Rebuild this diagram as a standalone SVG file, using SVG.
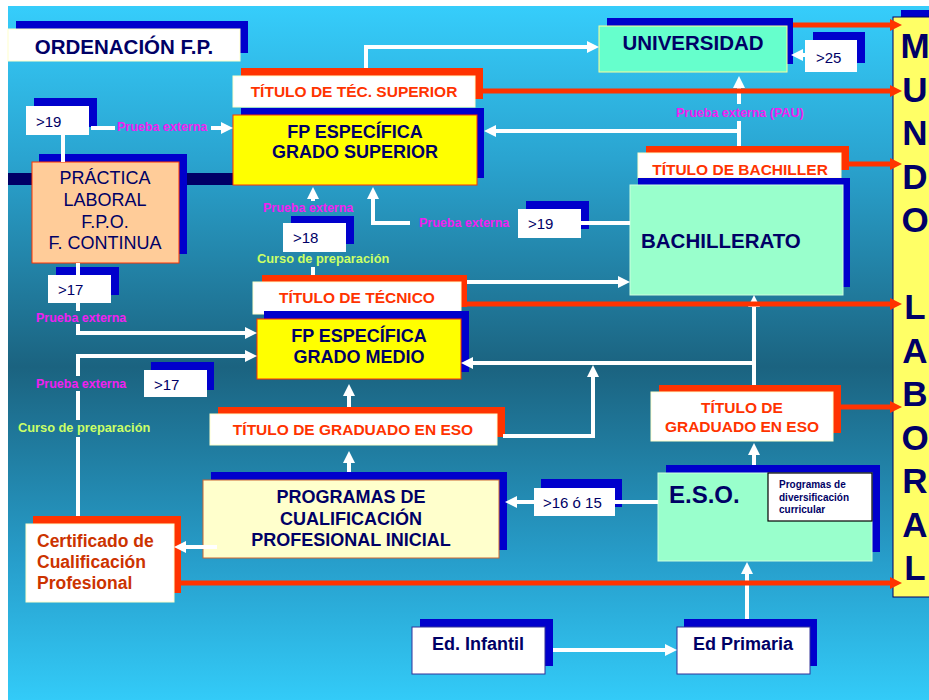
<svg xmlns="http://www.w3.org/2000/svg" width="929" height="700" viewBox="0 0 929 700">
<defs>
<linearGradient id="bg" x1="0" y1="0" x2="0" y2="1">
<stop offset="0" stop-color="#36cdfb"/>
<stop offset="0.22" stop-color="#2aa4d0"/>
<stop offset="0.52" stop-color="#1b6380"/>
<stop offset="0.8" stop-color="#279ecb"/>
<stop offset="1" stop-color="#33cbf8"/>
</linearGradient>
<marker id="aw" viewBox="0 0 10 10" refX="5" refY="5" markerWidth="12" markerHeight="12" markerUnits="userSpaceOnUse" orient="auto"><path d="M0,0 L10,5 L0,10 z" fill="#ffffff"/></marker>
<marker id="ar" viewBox="0 0 10 10" refX="5" refY="5" markerWidth="12" markerHeight="12" markerUnits="userSpaceOnUse" orient="auto"><path d="M0,0 L10,5 L0,10 z" fill="#ff3300"/></marker>
</defs>
<style>
text{font-family:"Liberation Sans",Arial,sans-serif}
.b{font-weight:bold}
.nv{fill:#000066}
.rd{fill:#ff3300}
.cr{fill:#cc3300}
.mg{fill:#f020f0;font-size:12.5px;font-weight:bold}
.gn{fill:#ccff66;font-size:12.8px;font-weight:bold}
.sb{fill:#0000cc}
.sr{fill:#ff3300}
.wb{fill:#ffffff;stroke:#ffffcc;stroke-width:1}
.yb{fill:#ffff00;stroke:#ff3300;stroke-width:1}
.age{fill:#ffffff}
.agt{fill:#000066;font-size:15px}
.rt{fill:#ff3300;font-size:15.5px;font-weight:bold}
.wl{stroke:#ffffff;stroke-width:4;fill:none}
.rl{stroke:#ff3300;stroke-width:5;fill:none}
</style>
<rect x="0" y="0" width="929" height="700" fill="#ffffff"/>
<rect x="8" y="6" width="921" height="694" fill="url(#bg)"/>
<rect x="8" y="173" width="228" height="12" fill="#000066"/>

<g id="titulo">
<rect class="sb" x="16" y="21" width="232" height="32"/>
<rect class="wb" x="8" y="29" width="232" height="32"/>
<text x="124" y="54" text-anchor="middle" class="b nv" font-size="20.5">ORDENACIÓN F.P.</text>
</g>

<g id="universidad">
<rect class="sb" x="607" y="18" width="186" height="46"/>
<rect x="599" y="26" width="188" height="46" fill="#66ffcc" stroke="#ffff99" stroke-width="1"/>
<text x="693" y="50" text-anchor="middle" class="b nv" font-size="20.5">UNIVERSIDAD</text>
</g>

<g id="edad25">
<rect class="sb" x="813" y="32" width="52" height="31"/>
<rect class="age" x="805" y="40" width="52" height="32"/>
<text x="816" y="63" class="agt">&gt;25</text>
</g>

<g id="titulo-tec-superior">
<rect class="sr" x="241" y="68" width="242" height="31"/>
<rect class="wb" x="233" y="76" width="242" height="31"/>
<text x="354" y="97" text-anchor="middle" class="rt">TÍTULO DE TÉC. SUPERIOR</text>
</g>

<g id="fp-grado-superior">
<rect class="sb" x="241" y="108" width="243" height="70"/>
<rect class="yb" x="233" y="115" width="244" height="70"/>
<text x="355" y="138" text-anchor="middle" class="b nv" font-size="18">FP ESPECÍFICA</text>
<text x="355" y="158" text-anchor="middle" class="b nv" font-size="18">GRADO SUPERIOR</text>
</g>

<g id="edad19a">
<rect class="sb" x="34" y="98" width="63" height="29"/>
<rect class="age" x="26" y="106" width="63" height="29"/>
<text x="36" y="127" class="agt">&gt;19</text>
</g>

<g id="practica-laboral">
<rect class="sb" x="39" y="154" width="148" height="100"/>
<rect x="32" y="162" width="147" height="101" fill="#ffcc99" stroke="#ff3300" stroke-width="1"/>
<text x="105" y="184" text-anchor="middle" class="nv" font-size="18">PRÁCTICA</text>
<text x="105" y="206" text-anchor="middle" class="nv" font-size="18">LABORAL</text>
<text x="105" y="228" text-anchor="middle" class="nv" font-size="18">F.P.O.</text>
<text x="105" y="249" text-anchor="middle" class="nv" font-size="18">F. CONTINUA</text>
</g>

<g id="titulo-bachiller">
<rect class="sr" x="646" y="146" width="203" height="24"/>
<rect class="wb" x="638" y="153" width="203" height="25"/>
<text x="740" y="175" text-anchor="middle" class="rt">TÍTULO DE BACHILLER</text>
</g>

<g id="bachillerato">
<rect class="sb" x="638" y="178" width="212" height="109"/>
<rect x="630" y="185" width="213" height="110" fill="#99ffcc" stroke="#ccffdd" stroke-width="1"/>
<text x="641" y="248" class="b nv" font-size="20.5">BACHILLERATO</text>
</g>

<g id="edad19b">
<rect class="sb" x="526" y="201" width="63" height="28"/>
<rect class="age" x="518" y="209" width="63" height="29"/>
<text x="528" y="229" class="agt">&gt;19</text>
</g>

<g id="edad18">
<rect class="sb" x="291" y="216" width="63" height="28"/>
<rect class="age" x="283" y="223" width="63" height="29"/>
<text x="293" y="243" class="agt">&gt;18</text>
</g>

<g id="edad17a">
<rect class="sb" x="56" y="267" width="63" height="28"/>
<rect class="age" x="48" y="275" width="63" height="28"/>
<text x="58" y="295" class="agt">&gt;17</text>
</g>

<g id="titulo-tecnico">
<rect class="sr" x="262" y="275" width="205" height="32"/>
<rect class="wb" x="253" y="282" width="208" height="32"/>
<text x="357" y="303" text-anchor="middle" class="rt">TÍTULO DE TÉCNICO</text>
</g>

<g id="fp-grado-medio">
<rect class="sb" x="264" y="311" width="205" height="61"/>
<rect class="yb" x="257" y="319" width="204" height="60"/>
<text x="359" y="342" text-anchor="middle" class="b nv" font-size="18">FP ESPECÍFICA</text>
<text x="359" y="363" text-anchor="middle" class="b nv" font-size="18">GRADO MEDIO</text>
</g>

<g id="edad17b">
<rect class="sb" x="151" y="362" width="63" height="28"/>
<rect class="age" x="144" y="370" width="63" height="27"/>
<text x="154" y="390" class="agt">&gt;17</text>
</g>

<g id="titulo-graduado-eso-a">
<rect class="sr" x="218" y="407" width="287" height="30"/>
<rect class="wb" x="210" y="414" width="287" height="31"/>
<text x="353" y="435" text-anchor="middle" class="rt">TÍTULO DE GRADUADO EN ESO</text>
</g>

<g id="titulo-graduado-eso-b">
<rect class="sr" x="659" y="385" width="182" height="48"/>
<rect class="wb" x="651" y="392" width="182" height="49"/>
<text x="742" y="413" text-anchor="middle" class="rt">TÍTULO DE</text>
<text x="742" y="432" text-anchor="middle" class="rt">GRADUADO EN ESO</text>
</g>

<g id="pcpi">
<rect class="sb" x="211" y="472" width="296" height="78"/>
<rect x="203" y="480" width="296" height="78" fill="#ffffcc" stroke="#cc6633" stroke-width="1"/>
<text x="351" y="503" text-anchor="middle" class="b nv" font-size="18">PROGRAMAS DE</text>
<text x="351" y="525" text-anchor="middle" class="b nv" font-size="18">CUALIFICACIÓN</text>
<text x="351" y="546" text-anchor="middle" class="b nv" font-size="18">PROFESIONAL INICIAL</text>
</g>

<g id="edad16">
<rect class="sb" x="541" y="479" width="81" height="28"/>
<rect class="age" x="534" y="488" width="81" height="28"/>
<text x="543" y="508" class="agt">&gt;16 ó 15</text>
</g>

<g id="eso">
<rect class="sb" x="666" y="465" width="214" height="87"/>
<rect x="658" y="473" width="214" height="88" fill="#99ffcc" stroke="#ccffdd" stroke-width="1"/>
<text x="669" y="503" class="b nv" font-size="24">E.S.O.</text>
<rect x="768" y="473" width="104" height="48" fill="#ffffff" stroke="#000000" stroke-width="1.2"/>
<text x="779" y="488" class="b nv" font-size="10">Programas de</text>
<text x="779" y="501" class="b nv" font-size="10">diversificación</text>
<text x="779" y="513" class="b nv" font-size="10">curricular</text>
</g>

<g id="certificado">
<rect class="sr" x="33" y="516" width="148" height="77"/>
<rect class="wb" x="26" y="524" width="148" height="78"/>
<text x="37" y="547" class="b cr" font-size="17.5">Certificado de</text>
<text x="37" y="568" class="b cr" font-size="17.5">Cualificación</text>
<text x="37" y="589" class="b cr" font-size="17.5">Profesional</text>
</g>

<g id="ed-infantil">
<rect class="sb" x="420" y="619" width="133" height="47"/>
<rect x="412" y="627" width="133" height="47" fill="#ffffff" stroke="#333399" stroke-width="1"/>
<text x="478" y="650" text-anchor="middle" class="b nv" font-size="18">Ed. Infantil</text>
</g>

<g id="ed-primaria">
<rect class="sb" x="684" y="619" width="133" height="47"/>
<rect x="677" y="627" width="133" height="47" fill="#ffffff" stroke="#333399" stroke-width="1"/>
<text x="743" y="650" text-anchor="middle" class="b nv" font-size="18">Ed Primaria</text>
</g>

<g id="mundo-laboral">
<rect class="sb" x="901" y="10" width="40" height="8"/>
<rect x="893" y="17" width="45" height="580" fill="#ffff66" stroke="#000066" stroke-width="1"/>
<g class="b nv" font-size="35" text-anchor="middle">
<text x="915" y="58">M</text>
<text x="915" y="101.5">U</text>
<text x="915" y="145">N</text>
<text x="915" y="188.5">D</text>
<text x="915" y="232">O</text>
<text x="915" y="319">L</text>
<text x="915" y="362.5">A</text>
<text x="915" y="406">B</text>
<text x="915" y="449.5">O</text>
<text x="915" y="493">R</text>
<text x="915" y="536.5">A</text>
<text x="915" y="580">L</text>
</g>
</g>

<g id="connectors">
<path class="wl" d="M91,128 H115"/>
<path class="wl" d="M211,128 H227" marker-end="url(#aw)"/>
<path class="wl" d="M63,135 V162"/>
<path class="wl" d="M78,263 V275"/>
<path class="wl" d="M78,303 V311"/>
<path class="wl" d="M78,324 V333 H251" marker-end="url(#aw)"/>
<path class="wl" d="M78,516 V437"/>
<path class="wl" d="M78,420 V391"/>
<path class="wl" d="M78,376 V356 H251" marker-end="url(#aw)"/>
<path class="wl" d="M313,275 V267"/>
<path class="wl" d="M313,201 V193" marker-end="url(#aw)"/>
<path class="wl" d="M410,223 H373 V193" marker-end="url(#aw)"/>
<path class="wl" d="M581,223 H630"/>
<path class="wl" d="M366,68 V47 H593" marker-end="url(#aw)"/>
<path class="wl" d="M805,55 H797" marker-end="url(#aw)"/>
<path class="wl" d="M739,146 V121"/>
<path class="wl" d="M739,104 V82" marker-end="url(#aw)"/>
<path class="wl" d="M739,131 H490" marker-end="url(#aw)"/>
<path class="wl" d="M467,282 H624" marker-end="url(#aw)"/>
<path class="wl" d="M754,385 V301" marker-end="url(#aw)"/>
<path class="wl" d="M754,363 H467" marker-end="url(#aw)"/>
<path class="wl" d="M503,436 H593 V371" marker-end="url(#aw)"/>
<path class="wl" d="M349,407 V390" marker-end="url(#aw)"/>
<path class="wl" d="M754,465 V449" marker-end="url(#aw)"/>
<path class="wl" d="M747,619 V568" marker-end="url(#aw)"/>
<path class="wl" d="M553,650 H671" marker-end="url(#aw)"/>
<path class="wl" d="M658,502 H615"/>
<path class="wl" d="M534,502 H511" marker-end="url(#aw)"/>
<path class="wl" d="M349,472 V457" marker-end="url(#aw)"/>
<path class="wl" d="M217,547 H180" marker-end="url(#aw)"/>
<path class="rl" d="M793,25 H896" marker-end="url(#ar)"/>
<path class="rl" d="M483,91 H896" marker-end="url(#ar)"/>
<path class="rl" d="M849,164 H896" marker-end="url(#ar)"/>
<path class="rl" d="M467,304 H896" marker-end="url(#ar)"/>
<path class="rl" d="M841,407 H896" marker-end="url(#ar)"/>
<path class="rl" d="M181,583 H896" marker-end="url(#ar)"/>
</g>

<g id="labels">
<text x="117" y="131" class="mg">Prueba externa</text>
<text x="263" y="212" class="mg">Prueba externa</text>
<text x="419" y="227" class="mg">Prueba externa</text>
<text x="676" y="117" class="mg">Prueba externa (PAU)</text>
<text x="36" y="322" class="mg">Prueba externa</text>
<text x="36" y="388" class="mg">Prueba externa</text>
<text x="257" y="263" class="gn">Curso de preparación</text>
<text x="18" y="432" class="gn">Curso de preparación</text>
</g>
</svg>
